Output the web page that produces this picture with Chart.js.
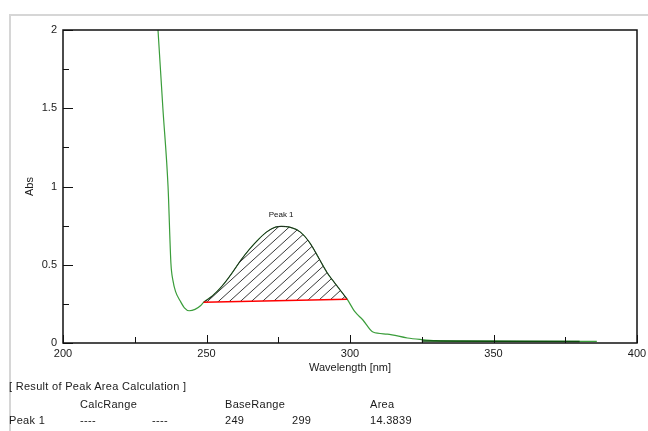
<!DOCTYPE html>
<html>
<head>
<meta charset="utf-8">
<script src="https://cdn.jsdelivr.net/npm/chart.js@4"></script>
<style>
  body { margin: 0; background: #fff; }
  #wrap { position: relative; width: 648px; height: 431px; overflow: hidden; }
  #frame { position: absolute; left: 9px; top: 14px; width: 660px; height: 440px;
           border-top: 2px solid #d6d6d6; border-left: 2px solid #d6d6d6; }
  canvas { position: absolute; left: 0; top: 0; }
  .t { position: absolute; font: 11px "Liberation Sans", Arial, sans-serif; color: #1a1a1a;
       line-height: 14px; white-space: nowrap; letter-spacing: 0.3px; }
</style>
</head>
<body>
<div id="wrap">
  <div id="frame"></div>
  <canvas id="spectrum" width="648" height="431"></canvas>
  <div class="t" style="left:9px;top:379px">[ Result of Peak Area Calculation ]</div>
  <div class="t" style="left:80px;top:397px">CalcRange</div>
  <div class="t" style="left:225px;top:397px">BaseRange</div>
  <div class="t" style="left:370px;top:397px">Area</div>
  <div class="t" style="left:9px;top:413px">Peak 1</div>
  <div class="t" style="left:80px;top:413px">----</div>
  <div class="t" style="left:152px;top:413px">----</div>
  <div class="t" style="left:225px;top:413px">249</div>
  <div class="t" style="left:292px;top:413px">299</div>
  <div class="t" style="left:370px;top:413px">14.3839</div>
</div>
<script>
// Spectrum data
const wavelengths = [232, 233.1, 234.8, 236.6, 237.6, 238.3, 239.2, 240.8, 242.3, 244, 246, 248, 249,
  252, 255.7, 259, 262, 265, 268, 271, 274, 276, 279, 282.6, 286, 289.5, 292, 294, 296.5, 299,
  301.7, 304.5, 308, 313, 320, 325, 330, 340, 360, 380, 386];
const absorbance = [2.3, 2.0, 1.5, 1.0, 0.51, 0.40, 0.33, 0.27, 0.225, 0.206, 0.215, 0.24, 0.26,
  0.30, 0.37, 0.45, 0.53, 0.60, 0.66, 0.71, 0.74, 0.745, 0.74, 0.71, 0.64, 0.53, 0.45, 0.40, 0.34, 0.28,
  0.20, 0.147, 0.07, 0.057, 0.032, 0.022, 0.015, 0.012, 0.01, 0.01, 0.01];

// darker overlapping trace at the tail
const tailWavelengths = [325, 380];
const tailAbsorbance = [0.012, 0.01];

// peak baseline
const baseRange = [249, 299];
const baseAbs = [0.26, 0.28];
const peakName = 'Peak 1';

const xTicks = [200, 225, 250, 275, 300, 325, 350, 375, 400];
const xLabels = [200, 250, 300, 350, 400];
const yTicks = [0, 0.25, 0.5, 0.75, 1, 1.25, 1.5, 1.75, 2];
const yLabels = [0, 0.5, 1, 1.5, 2];

const toPoints = (xs, ys) => xs.map((x, i) => ({ x: x, y: ys[i] }));
const spectrum = toPoints(wavelengths, absorbance);
const peakPts = spectrum.filter(p => p.x >= baseRange[0] && p.x <= baseRange[1]);
const peakTop = peakPts.reduce((a, b) => (b.y > a.y ? b : a));

// hatch pattern for the peak area
function makeHatch() {
    const c = document.createElement('canvas');
    c.width = 11; c.height = 10;
    const g = c.getContext('2d');
    g.strokeStyle = '#222';
    g.lineWidth = 0.9;
    g.beginPath();
    g.moveTo(-11, 20); g.lineTo(22, -10);
    g.moveTo(-22, 20); g.lineTo(11, -10);
    g.moveTo(0, 20); g.lineTo(33, -10);
    g.stroke();
    return g.createPattern(c, 'repeat');
}

const FONT = { family: '"Liberation Sans", Arial, sans-serif', size: 11 };

// plot box + inward ticks + peak label
const framePlugin = {
    id: 'frame',
    afterDatasetsDraw(chart) {
        const { ctx, chartArea: a, scales } = chart;
        ctx.save();
        ctx.strokeStyle = '#111';
        ctx.lineWidth = 1;
        ctx.beginPath();
        xTicks.forEach(v => {
            const px = Math.round(scales.x.getPixelForValue(v)) + 0.5;
            const len = xLabels.includes(v) ? 8 : 6;
            ctx.moveTo(px, a.bottom); ctx.lineTo(px, a.bottom - len);
        });
        yTicks.forEach(v => {
            const py = Math.round(scales.y.getPixelForValue(v)) + 0.5;
            const len = yLabels.includes(v) ? 10 : 6;
            ctx.moveTo(a.left, py); ctx.lineTo(a.left + len, py);
        });
        ctx.stroke();
        ctx.lineWidth = 1.5;
        ctx.strokeRect(a.left, a.top, a.right - a.left, a.bottom - a.top);
        ctx.fillStyle = '#111';
        ctx.font = '8px "Liberation Sans", Arial, sans-serif';
        ctx.textAlign = 'center';
        ctx.textBaseline = 'middle';
        ctx.fillText(peakName, scales.x.getPixelForValue(peakTop.x), scales.y.getPixelForValue(peakTop.y) - 12);
        ctx.restore();
    }
};

new Chart(document.getElementById('spectrum'), {
    type: 'line',
    data: {
        datasets: [
            {
                label: 'Spectrum',
                data: spectrum,
                borderColor: '#3a9d3a',
                borderWidth: 1.2,
                pointRadius: 0,
                cubicInterpolationMode: 'monotone',
                fill: false,
                order: 3
            },
            {
                label: 'Tail',
                data: toPoints(tailWavelengths, tailAbsorbance),
                borderColor: '#0b4d0b',
                borderWidth: 1.5,
                pointRadius: 0,
                fill: false,
                order: 2
            },
            {
                label: 'Baseline',
                data: toPoints(baseRange, baseAbs),
                borderColor: '#ff0000',
                borderWidth: 1.5,
                pointRadius: 0,
                fill: false,
                order: 0
            },
            {
                label: peakName,
                data: peakPts,
                borderColor: '#222',
                borderWidth: 1,
                pointRadius: 0,
                cubicInterpolationMode: 'monotone',
                backgroundColor: makeHatch(),
                fill: { target: 2 },
                order: 1
            }
        ]
    },
    options: {
        responsive: false,
        animation: false,
        events: [],
        layout: { padding: { left: 0, top: 30, right: 11, bottom: 51 } },
        plugins: {
            legend: { display: false },
            tooltip: { enabled: false }
        },
        scales: {
            x: {
                type: 'linear',
                min: 200,
                max: 400,
                afterBuildTicks: s => { s.ticks = xTicks.map(v => ({ value: v })); },
                afterFit: s => { s.height = 37; s.paddingRight = 0; s.paddingLeft = 0; },
                grid: { display: false, drawTicks: false },
                border: { display: false },
                ticks: {
                    autoSkip: false,
                    maxRotation: 0,
                    padding: 4,
                    color: '#1a1a1a',
                    font: FONT,
                    callback: v => (xLabels.includes(v) ? String(v) : '')
                },
                title: {
                    display: true,
                    text: 'Wavelength [nm]',
                    color: '#1a1a1a',
                    font: FONT,
                    padding: { top: 0, bottom: 5 }
                }
            },
            y: {
                min: 0,
                max: 2,
                afterBuildTicks: s => { s.ticks = yTicks.map(v => ({ value: v })); },
                afterFit: s => { s.width = 63; },
                grid: { display: false, drawTicks: false },
                border: { display: false },
                ticks: {
                    autoSkip: false,
                    padding: 6,
                    color: '#1a1a1a',
                    font: FONT,
                    callback: v => (yLabels.includes(v) ? String(v) : '')
                },
                title: {
                    display: true,
                    text: 'Abs',
                    color: '#1a1a1a',
                    font: FONT,
                    padding: { top: 23, bottom: 0 }
                }
            }
        }
    },
    plugins: [framePlugin]
});
</script>
</body>
</html>
